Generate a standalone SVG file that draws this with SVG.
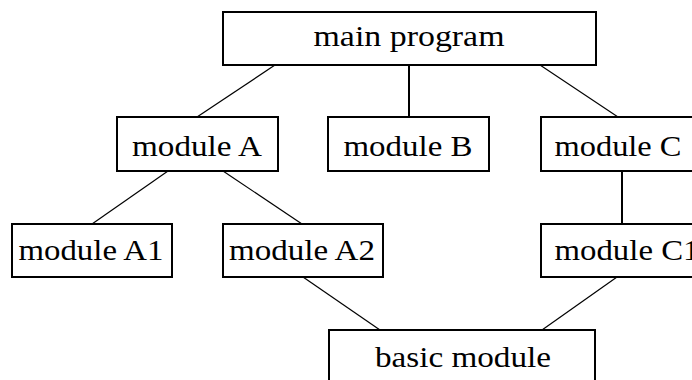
<svg xmlns="http://www.w3.org/2000/svg" width="692" height="380" viewBox="0 0 692 380">
<style>
rect{fill:#fff;stroke:#000;stroke-width:2}
text{font-family:"Liberation Serif","Times New Roman",Times,serif;font-size:29px;fill:#000;text-anchor:middle}
#edges line{stroke:#000;stroke-width:1.2}
#edges line.v{stroke-width:2}
</style>
<rect x="0" y="0" width="692" height="380" style="stroke:none"/>
<g id="edges">
<line x1="275" y1="65" x2="197" y2="117"/>
<line class="v" x1="409" y1="65" x2="409" y2="117"/>
<line x1="540" y1="65" x2="618" y2="117"/>
<line x1="168" y1="171" x2="92" y2="224"/>
<line x1="223" y1="171" x2="302" y2="224"/>
<line class="v" x1="622" y1="171" x2="622" y2="224"/>
<line x1="303" y1="277" x2="380" y2="330"/>
<line x1="617" y1="277" x2="542" y2="330"/>
</g>
<g id="main"><rect x="223" y="12" width="373" height="53"/><text x="409" y="46" textLength="191" lengthAdjust="spacingAndGlyphs">main program</text></g>
<g id="modA"><rect x="117" y="117" width="161" height="54"/><text x="197" y="156" textLength="130" lengthAdjust="spacingAndGlyphs">module A</text></g>
<g id="modB"><rect x="328" y="117" width="161" height="54"/><text x="408" y="156" textLength="129" lengthAdjust="spacingAndGlyphs">module B</text></g>
<g id="modC"><rect x="541" y="117" width="157" height="54"/><text x="618" y="156" textLength="127" lengthAdjust="spacingAndGlyphs">module C</text></g>
<g id="modA1"><rect x="12" y="224" width="160" height="53"/><text x="91" y="260" textLength="145" lengthAdjust="spacingAndGlyphs">module A1</text></g>
<g id="modA2"><rect x="223" y="224" width="160" height="53"/><text x="302" y="260" textLength="146" lengthAdjust="spacingAndGlyphs">module A2</text></g>
<g id="modC1"><rect x="541" y="224" width="160" height="53"/><text x="627" y="260" textLength="145" lengthAdjust="spacingAndGlyphs">module C1</text></g>
<g id="basic"><rect x="329" y="330" width="266" height="60"/><text x="463" y="367" textLength="176" lengthAdjust="spacingAndGlyphs">basic module</text></g>
</svg>
